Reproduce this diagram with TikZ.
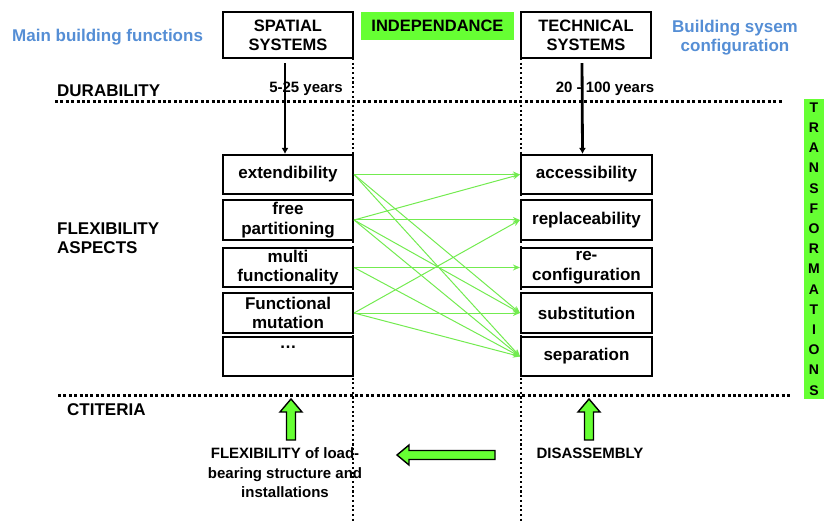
\documentclass[tikz,border=0pt]{standalone}
\usepackage{fontspec}
\setmainfont{Liberation Sans}
\usetikzlibrary{arrows.meta}
\definecolor{brightgreen}{RGB}{102,255,51}
\definecolor{linkgreen}{RGB}{115,235,80}
\definecolor{titleblue}{RGB}{85,142,213}

\begin{document}
\begin{tikzpicture}[x=1pt,y=-1pt,
  txt/.style={font=\fontsize{17}{19.5}\selectfont\bfseries, inner sep=0pt, align=center},
  smalltxt/.style={font=\fontsize{15}{19.5}\selectfont\bfseries, inner sep=0pt, align=center},
  box/.style={txt, draw, line width=2.1pt, minimum width=130pt, minimum height=39pt},
  headbox/.style={box, minimum height=46pt, font=\fontsize{16.5}{19}\selectfont\bfseries},
  link/.style={linkgreen, line width=1pt, -{Stealth[length=7pt,width=6pt]}},
  durarrow/.style={line width=2.8pt, -{Latex[length=6pt,width=7pt]}, shorten <=4pt},
  blockarrow/.style={fill=brightgreen, draw=black, line width=1.4pt, line join=miter},
  hdots/.style={line width=3pt, dash pattern=on 3pt off 2.4pt},
  vdots/.style={line width=2.1pt, dash pattern=on 2.1pt off 2.6pt}]

\useasboundingbox (0,0) rectangle (824,521);

% separators
\draw[vdots] (353,58) -- (353,521);
\draw[vdots] (521,58) -- (521,521);
\draw[hdots] (55,102) -- (782,102);
\draw[hdots] (58,395) -- (790,395);

% header row
\node[txt, titleblue, anchor=west] (mainfn) at (12,37) {Main building functions};
\node[headbox] (spatial) at (288,35) {SPATIAL\\SYSTEMS};
\node[txt, fill=brightgreen, minimum width=153pt, minimum height=28pt, font=\fontsize{16.5}{19}\selectfont\bfseries] (indep) at (437.5,26) {INDEPENDANCE};
\node[headbox] (tech) at (586,35) {TECHNICAL\\SYSTEMS};
\node[txt, titleblue] (config) at (735,37.5) {Building sysem\\configuration};

% row labels
\node[txt, anchor=west] (durab) at (57,91) {DURABILITY};
\node[smalltxt] (yrsl) at (306,89) {5-25 years};
\node[smalltxt] (yrsr) at (605,89) {20 - 100 years};
\node[txt, anchor=west, align=left] (aspects) at (57,238) {FLEXIBILITY\\ASPECTS};
\node[txt, anchor=west] (crit) at (67,410) {CTITERIA};

% flexibility aspects
\node[box] (ext) at (288,174.5) {extendibility};
\node[box, minimum height=40pt] (free) at (288,220) {free\\partitioning};
\node[box] (multi) at (288,267.5) {multi\\functionality};
\node[box, minimum height=40pt] (func) at (288,313) {Functional\\mutation};
\node[box] (etc) at (288,356.5) {\smash{\raisebox{8pt}{\dots}}};

\node[box, minimum width=131pt] (acc) at (586.5,174.5) {accessibility};
\node[box, minimum width=131pt, minimum height=40pt] (repl) at (586.5,220) {replaceability};
\node[box, minimum width=131pt] (recon) at (586.5,267.5) {re-\\configuration};
\node[box, minimum width=131pt, minimum height=40pt] (subst) at (586.5,313) {substitution};
\node[box, minimum width=131pt] (sep) at (586.5,356.5) {separation};

\draw[durarrow] ([xshift=-3pt]spatial.south) -- ([xshift=-3pt]ext.north);
\draw[durarrow] ([xshift=-4pt]tech.south) -- ([xshift=-4pt]acc.north);

\foreach \a/\b in {ext/acc, ext/subst, ext/sep, free/acc, free/repl, free/subst, free/sep,
  multi/recon, multi/sep, func/repl, func/subst, func/sep}{
  \draw[link] (\a.east) -- (\b.west);
}

% transformations strip
\node[fill=brightgreen, minimum width=20pt, minimum height=300pt, inner sep=0pt,
  font=\fontsize{14}{20.2}\selectfont\bfseries, align=center] (trans) at (814,249)
  {T\\R\\A\\N\\S\\F\\O\\R\\M\\A\\T\\I\\O\\N\\S};

% criteria
\draw[blockarrow] (286.5,440) -- (286.5,412) -- (280,412) -- (291,399) -- (302,412) -- (295.5,412) -- (295.5,440) -- cycle;
\draw[blockarrow] (584.5,440) -- (584.5,412) -- (578,412) -- (589,399) -- (600,412) -- (593.5,412) -- (593.5,440) -- cycle;
\draw[blockarrow] (495,450.5) -- (409,450.5) -- (409,445) -- (397,455) -- (409,465) -- (409,459.5) -- (495,459.5) -- cycle;

\node[smalltxt] (flexload) at (285,473) {FLEXIBILITY of load-\\bearing structure and\\installations};
\node[smalltxt] (disass) at (590,453) {DISASSEMBLY};

\end{tikzpicture}
\end{document}
